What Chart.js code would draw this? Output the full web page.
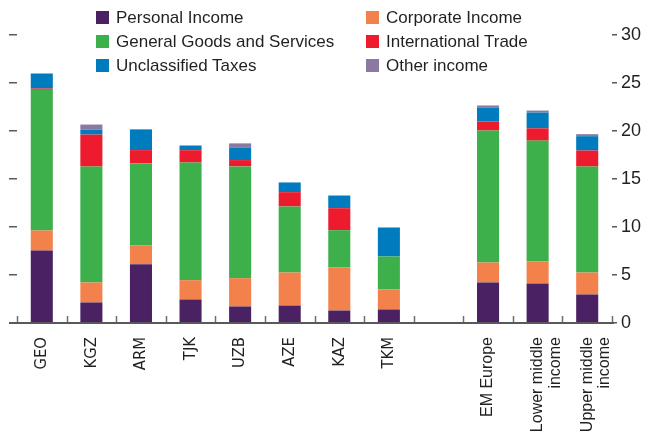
<!DOCTYPE html>
<html>
<head>
<meta charset="utf-8">
<script src="https://cdn.jsdelivr.net/npm/chart.js@4"></script>
<style>
  html, body { margin: 0; padding: 0; background: #fff; }
  #wrap { position: relative; width: 662px; height: 443px; }
  #legend { position: absolute; left: 0; top: 0; font-family: 'Liberation Sans', Arial, sans-serif; font-size: 17px; color: #231f20; }
  .item { position: absolute; height: 24px; line-height: 24px; white-space: nowrap; }
  .box { position: absolute; left: 0; top: 5px; width: 13px; height: 13px; }
  .txt { position: absolute; left: 20px; top: 0; }
</style>
</head>
<body>
<div id="wrap">
  <canvas id="chart" width="662" height="443"></canvas>
  <div id="legend"></div>
</div>
<script>
const categories = ['GEO', 'KGZ', 'ARM', 'TJK', 'UZB', 'AZE', 'KAZ', 'TKM', '', 'EM Europe', ['Lower middle', 'income'], ['Upper middle', 'income']];

const personalIncome = [7.55, 2.14, 6.13, 2.45, 1.72, 1.82, 1.30, 1.41, null, 4.22, 4.11, 2.97];
const corporateIncome = [2.09, 2.08, 1.95, 2.01, 2.95, 3.44, 4.48, 2.08, null, 2.08, 2.29, 2.29];
const goodsServices = [14.65, 12.08, 8.54, 12.26, 11.64, 6.88, 3.89, 3.44, null, 13.75, 12.60, 11.04];
const internationalTrade = [0.14, 3.33, 1.39, 1.28, 0.66, 1.49, 2.29, 0, null, 0.94, 1.28, 1.67];
const unclassifiedTaxes = [1.56, 0.52, 2.16, 0.49, 1.32, 1.01, 1.32, 3.02, null, 1.46, 1.64, 1.49];
const otherIncome = [0, 0.52, 0, 0, 0.42, 0, 0, 0, null, 0.21, 0.21, 0.21];

const yTicks = [0, 5, 10, 15, 20, 25, 30];

const series = [
  { label: 'Personal Income', data: personalIncome, color: '#4a2263' },
  { label: 'Corporate Income', data: corporateIncome, color: '#f3814b' },
  { label: 'General Goods and Services', data: goodsServices, color: '#3db04b' },
  { label: 'International Trade', data: internationalTrade, color: '#ec1c2e' },
  { label: 'Unclassified Taxes', data: unclassifiedTaxes, color: '#007bbd' },
  { label: 'Other income', data: otherIncome, color: '#8b79a1' }
];

// baseline + little tick marks between the categories
const axisMarks = {
  id: 'axisMarks',
  afterDatasetsDraw(chart) {
    const ctx = chart.ctx;
    const x = chart.scales.x;
    const area = chart.chartArea;
    ctx.save();
    ctx.strokeStyle = '#6d6e71';
    ctx.lineWidth = 1.5;
    for (let i = 0; i <= categories.length; i++) {
      const px = Math.round(x.getPixelForValue(i - 0.5)) + 0.5;
      ctx.beginPath();
      ctx.moveTo(px, area.bottom);
      ctx.lineTo(px, area.bottom - 7);
      ctx.stroke();
    }
    ctx.strokeStyle = '#58595b';
    ctx.lineWidth = 2;
    ctx.beginPath();
    ctx.moveTo(area.left - 8, area.bottom);
    ctx.lineTo(area.right + 2, area.bottom);
    ctx.stroke();
    ctx.restore();
  }
};

const chart = new Chart(document.getElementById('chart'), {
  type: 'bar',
  data: {
    labels: categories,
    datasets: series.map(s => ({
      label: s.label,
      data: s.data,
      backgroundColor: s.color,
      borderWidth: 0,
      barPercentage: 0.445,
      categoryPercentage: 1
    }))
  },
  options: {
    responsive: false,
    animation: false,
    layout: { padding: { top: 35, left: 9, right: 0, bottom: 0 } },
    plugins: { legend: { display: false }, tooltip: { enabled: false } },
    scales: {
      x: {
        stacked: true,
        grid: { display: false },
        border: { display: false },
        ticks: {
          autoSkip: false,
          maxRotation: 90,
          minRotation: 90,
          padding: 6,
          color: '#231f20',
          font: (ctx) => ctx.index < 8
            ? { family: "'Liberation Sans Narrow', 'DejaVu Sans Condensed', sans-serif", size: 16.5, lineHeight: 1.1 }
            : { family: "'Liberation Sans', Arial, sans-serif", size: 16, lineHeight: 1.1 }
        },
        afterFit(scale) { scale.height = 120; }
      },
      y: {
        stacked: true,
        position: 'left',
        min: 0,
        max: 30,
        border: { display: false },
        grid: { drawOnChartArea: false, drawTicks: true, tickLength: 8, color: '#58595b', lineWidth: 1.5 },
        ticks: { display: false, stepSize: 5 },
        afterFit(scale) { scale.width = 8; }
      },
      y2: {
        position: 'right',
        min: 0,
        max: 30,
        border: { display: false },
        grid: { drawOnChartArea: false, drawTicks: true, tickLength: 5, color: '#58595b', lineWidth: 1.5 },
        afterBuildTicks(scale) { scale.ticks = yTicks.map(v => ({ value: v })); },
        ticks: {
          padding: 4,
          color: '#231f20',
          font: { family: "'Liberation Sans', Arial, sans-serif", size: 18 }
        },
        afterFit(scale) { scale.width = 50; }
      }
    }
  },
  plugins: [axisMarks]
});

// legend in two columns, same order as the stack
const legend = document.getElementById('legend');
const colX = [96, 366];
const rowY = [6, 30, 54];
series.forEach((s, i) => {
  const item = document.createElement('div');
  item.className = 'item';
  item.style.left = colX[i % 2] + 'px';
  item.style.top = rowY[Math.floor(i / 2)] + 'px';
  item.innerHTML = `<span class="box" style="background:${s.color}"></span><span class="txt">${s.label}</span>`;
  legend.appendChild(item);
});
</script>
</body>
</html>
